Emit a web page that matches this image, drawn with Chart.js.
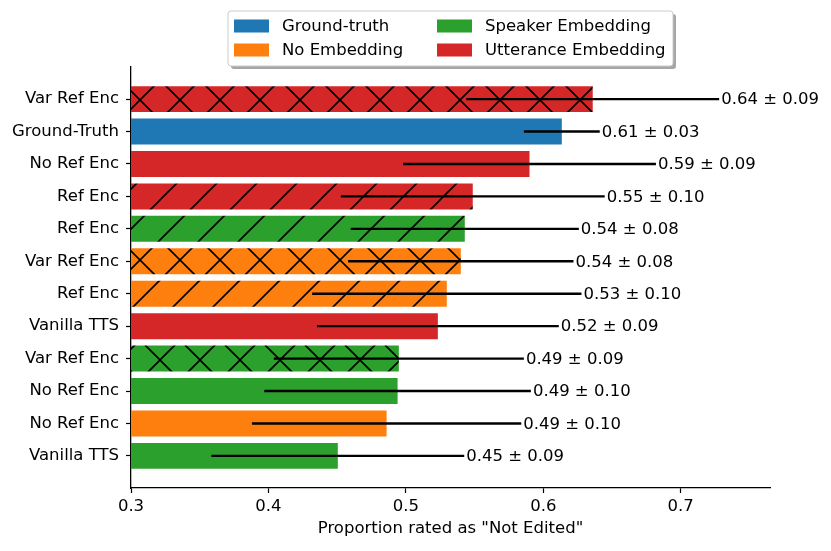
<!DOCTYPE html>
<html>
<head>
<meta charset="utf-8">
<script src="https://cdn.jsdelivr.net/npm/chart.js@4.4.1/dist/chart.umd.min.js"></script>
<style>
  html, body { margin: 0; padding: 0; background: #fff; }
  #wrap { position: absolute; left: 0; top: 0; width: 831px; height: 551px; }
</style>
</head>
<body>
<div id="wrap"><canvas id="myChart"></canvas></div>
<script>
// rows from top to bottom
const categories = ['Var Ref Enc', 'Ground-Truth', 'No Ref Enc', 'Ref Enc', 'Ref Enc', 'Var Ref Enc',
                    'Ref Enc', 'Vanilla TTS', 'Var Ref Enc', 'No Ref Enc', 'No Ref Enc', 'Vanilla TTS'];
const means = [0.636, 0.6135, 0.590, 0.5487, 0.5429, 0.540, 0.5298, 0.5233, 0.4949, 0.494, 0.486, 0.4505];
const errors = [0.092, 0.0276, 0.092, 0.096, 0.083, 0.082, 0.098, 0.088, 0.091, 0.097, 0.098, 0.092];
const groups = ['Utterance Embedding', 'Ground-truth', 'Utterance Embedding', 'Utterance Embedding',
                'Speaker Embedding', 'No Embedding', 'No Embedding', 'Utterance Embedding',
                'Speaker Embedding', 'Speaker Embedding', 'No Embedding', 'Speaker Embedding'];
const hatches = ['x', '', '', '/', '/', 'x', '/', '', 'x', '', '', ''];
const legendLabels = ['Ground-truth', 'No Embedding', 'Speaker Embedding', 'Utterance Embedding'];
const xTicks = [0.3, 0.4, 0.5, 0.6, 0.7];

const groupColor = {
    'Ground-truth': '#1f77b4',
    'No Embedding': '#ff7f0e',
    'Speaker Embedding': '#2ca02c',
    'Utterance Embedding': '#d62728'
}
const FONT = '"DejaVu Sans", sans-serif'
const FS = 16.5

function makeFill(color, hatch) {
    if (!hatch) return color
    const s = 40
    const tile = document.createElement('canvas')
    tile.width = s; tile.height = s
    const c = tile.getContext('2d')
    c.fillStyle = color
    c.fillRect(0, 0, s, s)
    c.strokeStyle = '#000'
    c.lineWidth = 1.6
    const seg = (a, b, d, e) => { c.beginPath(); c.moveTo(a, b); c.lineTo(d, e); c.stroke() }
    // '/' lines
    seg(0, s, s, 0); seg(-10, 10, 10, -10); seg(s - 10, s + 10, s + 10, s - 10)
    if (hatch === 'x') {
        seg(0, 0, s, s); seg(-10, s - 10, 10, s + 10); seg(s - 10, -10, s + 10, 10)
    }
    return c.createPattern(tile, 'repeat')
}

const errorBars = {
    id: 'errorBars',
    afterDatasetsDraw(chart) {
        const {ctx, scales: {x, y}} = chart
        ctx.save()
        ctx.strokeStyle = '#000'
        ctx.lineWidth = 2.4
        ctx.fillStyle = '#000'
        ctx.font = FS + 'px ' + FONT
        ctx.textBaseline = 'middle'
        ctx.textAlign = 'left'
        means.forEach((m, i) => {
            const py = y.getPixelForValue(i)
            const x1 = x.getPixelForValue(m - errors[i])
            const x2 = x.getPixelForValue(m + errors[i])
            ctx.beginPath(); ctx.moveTo(x1, py); ctx.lineTo(x2, py); ctx.stroke()
            ctx.fillText(m.toFixed(2) + ' \u00b1 ' + errors[i].toFixed(2), x2 + 2, py + 1)
        })
        ctx.restore()
    }
}

const boxLegend = {
    id: 'boxLegend',
    afterDraw(chart) {
        const ctx = chart.ctx
        const bx = 228, by = 11, bw = 445, bh = 55, r = 3
        const rr = (x0, y0) => {
            ctx.beginPath()
            ctx.roundRect(x0, y0, bw, bh, r)
        }
        ctx.save()
        ctx.fillStyle = 'rgba(77,77,77,0.5)'
        rr(bx + 3, by + 3); ctx.fill()
        ctx.fillStyle = '#fff'
        ctx.strokeStyle = '#cccccc'
        ctx.lineWidth = 1
        rr(bx, by); ctx.fill(); ctx.stroke()
        ctx.font = FS + 'px ' + FONT
        ctx.textBaseline = 'middle'
        ctx.textAlign = 'left'
        const cols = [234, 437], rows = [26, 50]
        legendLabels.forEach((lab, i) => {
            const cx = cols[Math.floor(i / 2)], cy = rows[i % 2]
            ctx.fillStyle = groupColor[lab]
            ctx.fillRect(cx, cy - 6.5, 35, 13)
            ctx.fillStyle = '#000'
            ctx.fillText(lab, cx + 48, cy + 1)
        })
        ctx.restore()
    }
}

const myChart = document.getElementById('myChart').getContext('2d')
new Chart(myChart, {
    type: 'bar',
    data: {
        datasets: [{
            data: means.map((m, i) => ({x: m, y: i})),
            backgroundColor: means.map((m, i) => makeFill(groupColor[groups[i]], hatches[i])),
            borderWidth: 0,
            categoryPercentage: 1,
            barPercentage: 0.8
        }]
    },
    options: {
        indexAxis: 'y',
        responsive: true,
        maintainAspectRatio: false,
        animation: false,
        events: [],
        layout: {padding: {top: 67, right: 61, left: 0, bottom: 0}},
        plugins: {legend: {display: false}, tooltip: {enabled: false}},
        scales: {
            x: {
                type: 'linear',
                min: 0.3,
                max: 0.765,
                afterBuildTicks: s => { s.ticks = xTicks.map(v => ({value: v})) },
                afterFit: s => { s.height = 63 },
                grid: {display: true, drawOnChartArea: false, drawTicks: true, tickLength: 5, tickColor: '#000', tickWidth: 1.2},
                border: {display: true, color: '#000', width: 1.3},
                ticks: {color: '#000', font: {family: FONT, size: FS}, padding: 4, callback: v => v.toFixed(1), maxRotation: 0},
                title: {display: true, text: 'Proportion rated as "Not Edited"', color: '#000', font: {family: FONT, size: FS}, padding: {top: 0, bottom: 12}}
            },
            y: {
                type: 'linear',
                reverse: true,
                offset: false,
                min: -0.99,
                max: 11.99,
                afterBuildTicks: s => { s.ticks = categories.map((c, i) => ({value: i})) },
                afterFit: s => { s.width = 131 },
                grid: {display: true, offset: false, drawOnChartArea: false, drawTicks: true, tickLength: 5, tickColor: '#000', tickWidth: 1.2},
                border: {display: true, color: '#000', width: 1.3},
                ticks: {color: '#000', font: {family: FONT, size: FS}, padding: 7, autoSkip: false, callback: v => categories[v]}
            }
        }
    },
    plugins: [errorBars, boxLegend]
})
</script>
</body>
</html>
